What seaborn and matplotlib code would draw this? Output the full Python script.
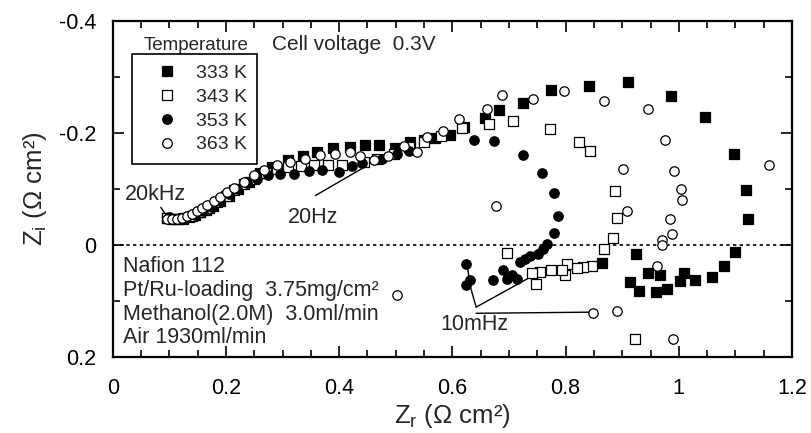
import matplotlib
matplotlib.use("Agg")
import matplotlib.pyplot as plt
from matplotlib.ticker import MultipleLocator
from matplotlib.lines import Line2D
import seaborn as sns
import pandas as pd

# Impedance spectra (Zr, Zi in ohm cm2) of the DMFC at four cell temperatures
temperatures = ["333 K", "343 K", "353 K", "363 K"]

zr_333 = [0.095, 0.105, 0.115, 0.125, 0.135, 0.145, 0.155, 0.165, 0.178, 0.190, 0.205,
          0.222, 0.240, 0.260, 0.282, 0.310, 0.337, 0.361, 0.390, 0.420, 0.446, 0.470,
          0.499, 0.526, 0.549, 0.570, 0.596, 0.620, 0.657, 0.683, 0.725, 0.774, 0.841,
          0.911, 0.986, 1.047, 1.098, 1.118, 1.122, 1.100, 1.079, 1.059, 1.028, 1.009,
          1.002, 0.979, 0.966, 0.959, 0.946, 0.930, 0.914, 0.924, 0.864]
zi_333 = [-0.048, -0.047, -0.046, -0.047, -0.050, -0.053, -0.058, -0.063, -0.070, -0.078, -0.088,
          -0.100, -0.112, -0.128, -0.139, -0.151, -0.158, -0.166, -0.172, -0.175, -0.178, -0.179,
          -0.173, -0.183, -0.187, -0.191, -0.196, -0.210, -0.226, -0.240, -0.253, -0.277, -0.284,
          -0.290, -0.265, -0.229, -0.163, -0.098, -0.046, 0.012, 0.038, 0.057, 0.062, 0.050,
          0.064, 0.078, 0.054, 0.084, 0.050, 0.082, 0.066, 0.017, 0.032]

zr_343 = [0.095, 0.110, 0.125, 0.140, 0.155, 0.170, 0.185, 0.200, 0.215, 0.232, 0.250,
          0.270, 0.290, 0.310, 0.332, 0.355, 0.380, 0.405, 0.443, 0.467, 0.496, 0.523,
          0.549, 0.580, 0.617, 0.665, 0.707, 0.773, 0.824, 0.843, 0.887, 0.891, 0.884,
          0.868, 0.846, 0.831, 0.820, 0.802, 0.799, 0.793, 0.775, 0.755, 0.748, 0.740,
          0.696, 0.922]
zi_343 = [-0.048, -0.047, -0.048, -0.052, -0.058, -0.066, -0.076, -0.087, -0.098, -0.108, -0.118,
          -0.128, -0.135, -0.139, -0.141, -0.142, -0.142, -0.143, -0.148, -0.154, -0.163, -0.174,
          -0.183, -0.195, -0.208, -0.215, -0.221, -0.206, -0.183, -0.168, -0.096, -0.048, -0.012,
          0.007, 0.037, 0.040, 0.042, 0.034, 0.054, 0.045, 0.044, 0.048, 0.069, 0.051,
          0.014, 0.167]

zr_353 = [0.100, 0.115, 0.130, 0.145, 0.160, 0.175, 0.190, 0.205, 0.220, 0.238, 0.255,
          0.275, 0.296, 0.320, 0.346, 0.370, 0.399, 0.423, 0.440, 0.476, 0.502, 0.523,
          0.639, 0.674, 0.725, 0.758, 0.780, 0.786, 0.779, 0.767, 0.760, 0.751, 0.737,
          0.728, 0.720, 0.714, 0.705, 0.696, 0.689, 0.671, 0.631, 0.624, 0.624]
zi_353 = [-0.049, -0.047, -0.048, -0.053, -0.060, -0.068, -0.078, -0.090, -0.100, -0.110, -0.118,
          -0.124, -0.127, -0.127, -0.132, -0.134, -0.130, -0.140, -0.147, -0.154, -0.163, -0.168,
          -0.188, -0.186, -0.161, -0.129, -0.093, -0.051, -0.021, -0.002, 0.007, 0.016, 0.019,
          0.025, 0.031, 0.060, 0.054, 0.060, 0.045, 0.062, 0.063, 0.072, 0.034]

zr_363 = [0.096, 0.105, 0.114, 0.123, 0.132, 0.140, 0.149, 0.158, 0.167, 0.179, 0.190,
          0.202, 0.214, 0.232, 0.249, 0.267, 0.290, 0.314, 0.340, 0.367, 0.393, 0.420,
          0.437, 0.461, 0.487, 0.514, 0.537, 0.556, 0.584, 0.611, 0.662, 0.687, 0.743,
          0.797, 0.868, 0.946, 0.976, 0.991, 1.004, 1.006, 0.985, 0.988, 0.971, 0.970,
          0.962, 0.902, 0.908, 0.677, 1.159, 0.502, 0.890, 0.849, 0.990]
zi_363 = [-0.047, -0.047, -0.047, -0.048, -0.051, -0.056, -0.060, -0.066, -0.072, -0.079, -0.086,
          -0.094, -0.102, -0.112, -0.124, -0.133, -0.142, -0.148, -0.154, -0.160, -0.162, -0.165,
          -0.159, -0.151, -0.159, -0.176, -0.165, -0.192, -0.204, -0.224, -0.243, -0.268, -0.261,
          -0.274, -0.256, -0.242, -0.188, -0.131, -0.099, -0.081, -0.046, -0.019, -0.008, 0.001,
          0.038, -0.136, -0.060, -0.070, -0.143, 0.090, 0.118, 0.122, 0.167]

series = {
    "333 K": (zr_333, zi_333),
    "343 K": (zr_343, zi_343),
    "353 K": (zr_353, zi_353),
    "363 K": (zr_363, zi_363),
}
styles = {
    "333 K": dict(marker="s", fc="black", s=54),
    "343 K": dict(marker="s", fc="white", s=54),
    "353 K": dict(marker="o", fc="black", s=46),
    "363 K": dict(marker="o", fc="white", s=46),
}

frames = []
for t in temperatures:
    zr, zi = series[t]
    frames.append(pd.DataFrame({"Zr": zr, "Zi": zi, "T": t}))
df = pd.concat(frames, ignore_index=True)

sns.set_style("ticks")
plt.rcParams["font.family"] = ["Liberation Sans", "DejaVu Sans"]
plt.rcParams["mathtext.fontset"] = "custom"
plt.rcParams["mathtext.rm"] = "Liberation Sans"
plt.rcParams["mathtext.it"] = "Liberation Sans:italic"

fig = plt.figure(figsize=(8.11, 4.33), dpi=100)
ax = fig.add_axes([0.139, 0.1755, 0.8376, 0.7767])

for t in temperatures:
    st = styles[t]
    sns.scatterplot(data=df[df["T"] == t], x="Zr", y="Zi", ax=ax,
                    marker=st["marker"], color=st["fc"], edgecolor="black",
                    linewidth=0.9, s=st["s"], legend=False, zorder=3)

ax.axhline(0, color="black", lw=1.2, ls=(0, (2, 2)), zorder=1)

ax.set_xlim(0, 1.2)
ax.set_ylim(0.2, -0.4)
ax.xaxis.set_minor_locator(MultipleLocator(0.05))
ax.yaxis.set_minor_locator(MultipleLocator(0.1))
ax.set_xticks([0, 0.2, 0.4, 0.6, 0.8, 1.0, 1.2])
ax.set_xticklabels(["0", "0.2", "0.4", "0.6", "0.8", "1", "1.2"])
ax.set_yticks([-0.4, -0.2, 0, 0.2])
ax.set_yticklabels(["-0.4", "-0.2", "0", "0.2"])
ax.tick_params(which="both", direction="in", top=True, right=True,
               color="black", width=1.2, labelsize=15.5, labelcolor="black")
ax.tick_params(which="major", length=8)
ax.tick_params(which="minor", length=5)
ax.tick_params(axis="x", which="major", pad=15)
ax.tick_params(axis="y", which="major", pad=12)
for sp in ax.spines.values():
    sp.set_visible(True)
    sp.set_color("black")
    sp.set_linewidth(1.6)

ax.set_xlabel(r"$\mathregular{Z_r}$ (Ω cm²)", fontsize=18.5, labelpad=2)
ax.set_ylabel(r"$\mathregular{Z_i}$ (Ω cm²)", fontsize=18.5, labelpad=7)

handles = [Line2D([], [], ls="none", marker=styles[t]["marker"], mfc=styles[t]["fc"],
                  mec="black", mew=0.9, ms=7.4 if styles[t]["marker"] == "s" else 6.9)
           for t in temperatures]
leg = ax.legend(handles, temperatures, loc="upper left", bbox_to_anchor=(0.029, 0.902),
                borderaxespad=0, frameon=True, fancybox=False, framealpha=1,
                edgecolor="black", fontsize=14, handlelength=2.5, handletextpad=0.2,
                borderpad=0.55, labelspacing=0.32)
leg.get_frame().set_linewidth(1.2)

ax.text(0.045, 0.913, "Temperature", transform=ax.transAxes, fontsize=13.5, va="baseline")
ax.text(0.234, 0.913, "Cell voltage  0.3V", transform=ax.transAxes, fontsize=15, va="baseline")

ax.text(0.018, 0.468, "20kHz", transform=ax.transAxes, fontsize=15.5, va="baseline")
ax.text(0.258, 0.398, "20Hz", transform=ax.transAxes, fontsize=15.5, va="baseline")
ax.text(0.482, 0.080, "10mHz", transform=ax.transAxes, fontsize=15.5, va="baseline")

info = ["Nafion 112", "Pt/Ru-loading  3.75mg/cm²", "Methanol(2.0M)  3.0ml/min", "Air 1930ml/min"]
for line, fy in zip(info, [0.253, 0.181, 0.110, 0.042]):
    ax.text(0.0152, fy, line, transform=ax.transAxes, fontsize=15.5, va="baseline")

# leader lines for the frequency labels
lk = dict(color="black", lw=1.0, zorder=2)
ax.plot([0.085, 0.096], [-0.067, -0.050], **lk)
ax.plot([0.358, 0.440], [-0.088, -0.136], **lk)
ax.plot([0.626, 0.631, 0.642], [0.033, 0.072, 0.111], **lk)
ax.plot([0.642, 0.737], [0.111, 0.058], **lk)
ax.plot([0.642, 0.843], [0.122, 0.120], **lk)

fig.savefig("out.png", dpi=100)
